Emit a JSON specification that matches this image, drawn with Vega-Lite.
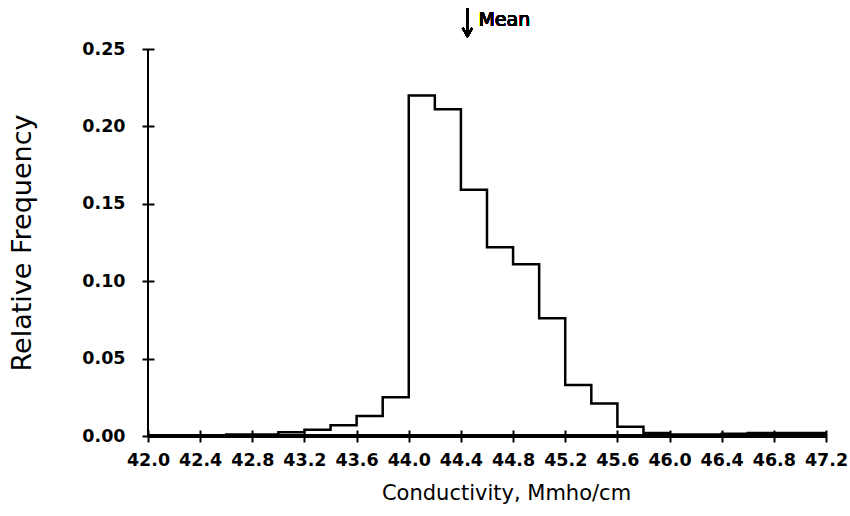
{
  "$schema": "https://vega.github.io/schema/vega-lite/v6.json",
  "width": 678,
  "height": 387,
  "autosize": "none",
  "padding": {"left": 148, "top": 49, "right": 24, "bottom": 80},
  "background": "white",
  "config": {"view": {"stroke": null}, "font": "DejaVu Sans"},
  "datasets": {
    "hist": [
      {"start": 42.0, "freq": 0.0},
      {"start": 42.2, "freq": 0.0},
      {"start": 42.4, "freq": 0.0005},
      {"start": 42.6, "freq": 0.001},
      {"start": 42.8, "freq": 0.001},
      {"start": 43.0, "freq": 0.0025},
      {"start": 43.2, "freq": 0.004},
      {"start": 43.4, "freq": 0.007},
      {"start": 43.6, "freq": 0.013},
      {"start": 43.8, "freq": 0.025},
      {"start": 44.0, "freq": 0.22},
      {"start": 44.2, "freq": 0.211},
      {"start": 44.4, "freq": 0.159},
      {"start": 44.6, "freq": 0.122},
      {"start": 44.8, "freq": 0.111},
      {"start": 45.0, "freq": 0.076},
      {"start": 45.2, "freq": 0.033},
      {"start": 45.4, "freq": 0.021},
      {"start": 45.6, "freq": 0.006},
      {"start": 45.8, "freq": 0.002},
      {"start": 46.0, "freq": 0.001},
      {"start": 46.2, "freq": 0.001},
      {"start": 46.4, "freq": 0.0015},
      {"start": 46.6, "freq": 0.002},
      {"start": 46.8, "freq": 0.002},
      {"start": 47.0, "freq": 0.002},
      {"start": 47.2, "freq": 0.002}
    ]
  },
  "data": {"name": "hist"},
  "layer": [
    {
      "mark": {"type": "line", "interpolate": "step-after", "color": "black", "strokeWidth": 2.5},
      "encoding": {
        "x": {
          "field": "start", "type": "quantitative",
          "scale": {"domain": [42.0, 47.2], "nice": false, "zero": false},
          "axis": {
            "title": "Conductivity, Mmho/cm",
            "titleX": 358,
            "values": [42.0,42.2,42.4,42.6,42.8,43.0,43.2,43.4,43.6,43.8,44.0,44.2,44.4,44.6,44.8,45.0,45.2,45.4,45.6,45.8,46.0,46.2,46.4,46.6,46.8,47.0,47.2],
            "labelExpr": "round(datum.value*10) % 4 == 0 ? format(datum.value, '.1f') : ''",
            "domain": false,
            "offset": -6,
            "tickSize": 12,
            "tickWidth": 2,
            "tickColor": "black",
            "grid": false,
            "labelFont": "DejaVu Sans",
            "labelFontWeight": "bold",
            "labelFontSize": 17.5,
            "labelColor": "black",
            "labelPadding": 9,
            "labelFlush": false,
            "labelOverlap": false,
            "titleFont": "DejaVu Sans",
            "titleFontSize": 21,
            "titleFontWeight": "normal",
            "titleColor": "black",
            "titlePadding": 14
          }
        },
        "y": {
          "field": "freq", "type": "quantitative",
          "scale": {"domain": [0, 0.25], "nice": false},
          "axis": {
            "title": "Relative  Frequency",
            "values": [0, 0.05, 0.1, 0.15, 0.2, 0.25],
            "format": ".2f",
            "domain": false,
            "offset": -6,
            "tickSize": 12,
            "tickWidth": 2,
            "tickColor": "black",
            "grid": false,
            "labelFont": "DejaVu Sans",
            "labelFontWeight": "bold",
            "labelFontSize": 17.5,
            "labelColor": "black",
            "labelPadding": 17,
            "titleFont": "DejaVu Sans",
            "titleFontSize": 27,
            "titleFontWeight": "normal",
            "titleColor": "black",
            "titlePadding": 45
          }
        }
      }
    },
    {
      "mark": {"type": "rule", "color": "black", "strokeWidth": 2.5},
      "encoding": {"y": {"datum": 0}}
    },
    {
      "mark": {"type": "rule", "color": "black", "strokeWidth": 2},
      "encoding": {"x": {"datum": 42.0}}
    },
    {
      "mark": {"type": "rule", "color": "black", "strokeWidth": 2, "clip": false},
      "encoding": {"x": {"datum": 44.45}, "y": {"datum": 0.2765}, "y2": {"datum": 0.2585}}
    },
    {
      "mark": {"type": "point", "shape": "M-0.6,-1L0,0L0.6,-1", "filled": false, "color": "black", "strokeWidth": 2, "size": 250, "opacity": 1, "clip": false},
      "encoding": {"x": {"datum": 44.45}, "y": {"datum": 0.2584}}
    },
    {
      "mark": {"type": "text", "text": "Mean", "fontSize": 19, "fontWeight": "normal", "font": "DejaVu Sans", "color": "black", "clip": false, "baseline": "middle", "align": "left", "dx": 11},
      "encoding": {"x": {"datum": 44.45}, "y": {"datum": 0.2688}}
    }
  ]
}
